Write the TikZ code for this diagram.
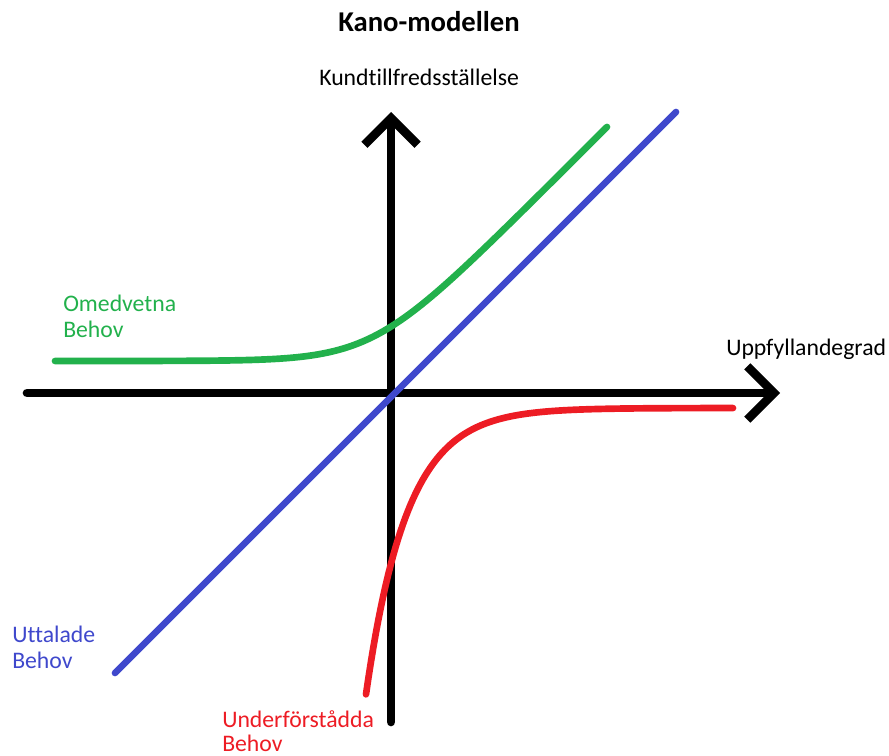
\documentclass[tikz,border=0pt]{standalone}
\usepackage{fontspec}
\setmainfont{Carlito}[Ligatures=NoCommon]
\usetikzlibrary{arrows.meta}
\definecolor{kanogreen}{RGB}{34,177,76}
\definecolor{kanoblue}{RGB}{63,72,204}
\definecolor{kanored}{RGB}{237,28,36}
\tikzset{
  axis/.style={line width=6.5pt,-{Straight Barb[length=20pt,width=40pt,line cap=butt,line join=miter]}},
  kurva/.style={line width=5pt},
  lbl/.style={anchor=base west,inner sep=0pt,font=\fontsize{17.8}{19.5}\selectfont}
}
\begin{document}
\begin{tikzpicture}[x=0.75pt,y=-0.75pt, line join=round, line cap=round]
    \useasboundingbox (0,0) rectangle (889,756);
    \def\g[#1]{361-35*ln(1+exp(((#1)-373)/35))}
    \def\h[#1]{408+119*exp(-((#1)-402)/41)}
    % axlar
    \coordinate (xstart) at (27,393);
    \coordinate (xslut) at (780,393);
    \coordinate (ystart) at (391,722);
    \coordinate (yslut) at (391,112);
    \draw[axis] (xstart) -- (xslut);
    \draw[axis] (ystart) -- (yslut);
    \node[lbl] (xlabel) at (726,355) {Uppfyllandegrad};
    \node[lbl] (ylabel) at (319,86) {Kundtillfredsställelse};
    \node[anchor=base,inner sep=0pt,font=\fontsize{21.5}{24}\selectfont\bfseries] (titel) at (429,32) {Kano-modellen};
    % kurvor
    \coordinate (blastart) at (115,673);
    \coordinate (blaslut) at (676,112);
    \draw[kurva,kanoblue] (blastart) -- (blaslut);
    \draw[kurva,kanogreen,domain=55:607,samples=150] plot (\x,{\g[\x]});
    \draw[kurva,kanored,domain=366:733,samples=150] plot (\x,{\h[\x]});
    % etiketter
    \node[lbl,text=kanogreen] (omedvetna) at (63,311) {Omedvetna};
    \node[lbl,text=kanogreen] (omedvetnabehov) at (63,337) {Behov};
    \node[lbl,text=kanoblue] (uttalade) at (12,642) {Uttalade};
    \node[lbl,text=kanoblue] (uttaladebehov) at (12,668) {Behov};
    \node[lbl,text=kanored] (underforstadda) at (222,727) {Underförstådda};
    \node[lbl,text=kanored] (underforstaddabehov) at (222,751) {Behov};
\end{tikzpicture}
\end{document}
